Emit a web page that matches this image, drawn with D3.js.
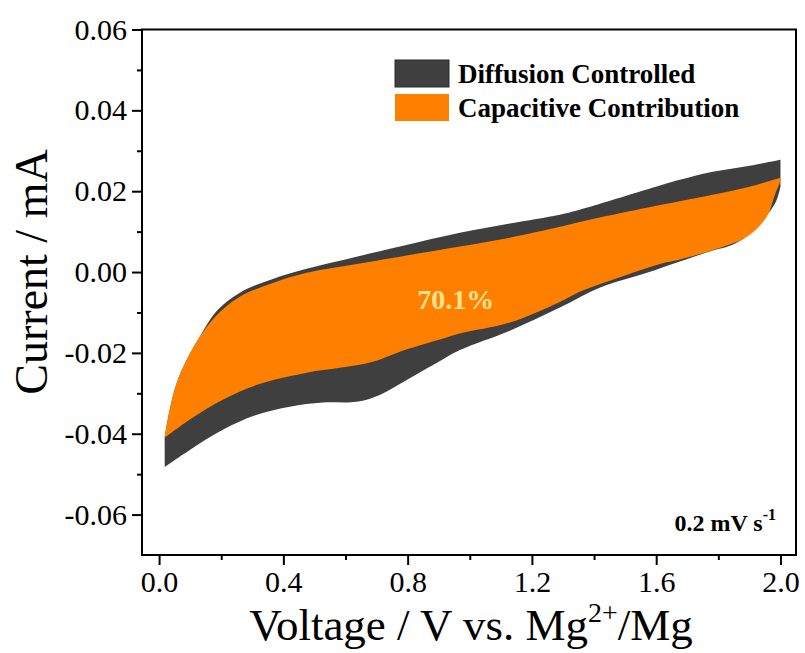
<!DOCTYPE html>
<html>
<head>
<meta charset="utf-8">
<script src="https://cdn.jsdelivr.net/npm/d3@7"></script>
<style>
  html, body { margin: 0; padding: 0; background: #fff; }
  svg { display: block; font-family: "Liberation Serif", "Times New Roman", serif; }
</style>
</head>
<body>
<svg id="chart" width="805" height="653"></svg>
<script>
// Voltage (V vs. Mg2+/Mg) and current (mA) pairs for the CV at 0.2 mV/s.
// Total measured current, anodic sweep (0 -> 2 V)
const totalForward = [
  [0.018, -0.0408], [0.034, -0.0341], [0.057, -0.0274], [0.089, -0.0217],
  [0.131, -0.0160], [0.186, -0.0096], [0.260, -0.0051], [0.366, -0.0017],
  [0.475, 0.0008], [0.582, 0.0028], [0.775, 0.0063], [0.968, 0.0097],
  [1.129, 0.0120], [1.290, 0.0142], [1.354, 0.0154], [1.570, 0.0204],
  [1.676, 0.0228], [1.782, 0.0248], [1.901, 0.0263], [2.000, 0.0278]
];
// Total measured current, cathodic sweep (2 -> 0 V)
const totalReverse = [
  [2.000, 0.0211], [1.988, 0.0179], [1.965, 0.0149], [1.933, 0.0122],
  [1.885, 0.0085], [1.837, 0.0065], [1.782, 0.0053], [1.676, 0.0026],
  [1.570, -0.0002], [1.418, -0.0039], [1.290, -0.0088], [1.129, -0.0145],
  [0.968, -0.0193], [0.904, -0.0220], [0.797, -0.0267],
  [0.710, -0.0304], [0.636, -0.0321], [0.527, -0.0323], [0.421, -0.0333],
  [0.315, -0.0353], [0.205, -0.0390], [0.099, -0.0440], [0.018, -0.0482]
];
// Capacitive current (k1·v), anodic sweep
const capForward = [
  [0.018, -0.0408], [0.034, -0.0341], [0.057, -0.0274], [0.089, -0.0217],
  [0.131, -0.0160], [0.186, -0.0106], [0.260, -0.0061], [0.366, -0.0027],
  [0.475, -0.0002], [0.582, 0.0013], [0.775, 0.0038], [0.968, 0.0063],
  [1.129, 0.0085], [1.290, 0.0112], [1.354, 0.0124], [1.570, 0.0159],
  [1.782, 0.0191], [1.901, 0.0211], [2.000, 0.0233]
];
// Capacitive current (k1·v), cathodic sweep
const capReverse = [
  [2.000, 0.0225], [1.982, 0.0191], [1.956, 0.0137], [1.892, 0.0087],
  [1.806, 0.0060], [1.676, 0.0031], [1.612, 0.0020], [1.460, -0.0019],
  [1.354, -0.0049], [1.290, -0.0074], [1.129, -0.0125], [0.968, -0.0152],
  [0.903, -0.0167], [0.775, -0.0197], [0.688, -0.0222], [0.582, -0.0237],
  [0.475, -0.0249], [0.315, -0.0279], [0.205, -0.0316], [0.099, -0.0365],
  [0.018, -0.0410]
];

const voltageTicks = [0.0, 0.4, 0.8, 1.2, 1.6, 2.0];
const voltageMinorTicks = [0.2, 0.6, 1.0, 1.4, 1.8];
const currentTicks = [-0.06, -0.04, -0.02, 0.00, 0.02, 0.04, 0.06];
const currentMinorTicks = [-0.05, -0.03, -0.01, 0.01, 0.03, 0.05];
const legendLabels = ["Diffusion Controlled", "Capacitive Contribution"];
const legendColors = ["#3f3f3f", "#ff8000"];
const capacitiveShare = "70.1%";
const scanRateText = "0.2 mV s";
const scanRateExp = "-1";

const W = 805, H = 653;
const margin = { top: 29.5, right: 9, bottom: 98, left: 142 };

const svg = d3.select("#chart");

const x = d3.scaleLinear().domain([-0.055, 2.05]).range([margin.left, W - margin.right]);
const y = d3.scaleLinear().domain([-0.07, 0.06]).range([H - margin.bottom, margin.top]);

const line = d3.line().x(d => x(d[0])).y(d => y(d[1])).curve(d3.curveCatmullRom.alpha(0.5));

// Closed loop: forward branch, then reverse branch joined with straight edges at the vertices
function loopPath(fwd, rev) {
  const a = line(fwd);
  const b = line(rev);
  return a + "L" + b.slice(1) + "Z";
}

const plot = svg.append("g");

// Total CV area (diffusion controlled part shows around the capacitive area)
plot.append("path")
  .attr("d", loopPath(totalForward, totalReverse))
  .attr("fill", legendColors[0]);

// Capacitive contribution area
plot.append("path")
  .attr("d", loopPath(capForward, capReverse))
  .attr("fill", legendColors[1]);

// Percentage label
svg.append("text")
  .attr("x", x(0.955))
  .attr("y", y(-0.0092))
  .attr("text-anchor", "middle")
  .attr("font-weight", "bold")
  .attr("font-size", 28)
  .attr("fill", "#ffe38f")
  .text(capacitiveShare);

// Axes
const fontTick = 30;
const xAxis = svg.append("g")
  .attr("transform", `translate(0,${H - margin.bottom})`)
  .call(d3.axisBottom(x).tickValues(voltageTicks).tickFormat(d3.format(".1f"))
    .tickSize(10).tickSizeOuter(0).tickPadding(6));
xAxis.select(".domain").remove();
xAxis.selectAll(".tick line").attr("stroke", "#000").attr("stroke-width", 2);
xAxis.selectAll(".tick text").attr("font-size", fontTick).attr("font-family", "Liberation Serif").attr("fill", "#000");

const xMinor = svg.append("g")
  .attr("transform", `translate(0,${H - margin.bottom})`)
  .call(d3.axisBottom(x).tickValues(voltageMinorTicks).tickFormat("").tickSize(5).tickSizeOuter(0));
xMinor.select(".domain").remove();
xMinor.selectAll(".tick line").attr("stroke", "#000").attr("stroke-width", 2);

const yAxis = svg.append("g")
  .attr("transform", `translate(${margin.left},0)`)
  .call(d3.axisLeft(y).tickValues(currentTicks).tickFormat(d3.format(".2f"))
    .tickSize(10).tickSizeOuter(0).tickPadding(5));
yAxis.select(".domain").remove();
yAxis.selectAll(".tick line").attr("stroke", "#000").attr("stroke-width", 2);
yAxis.selectAll(".tick text").attr("font-size", fontTick).attr("font-family", "Liberation Serif").attr("fill", "#000")
  .text(d => d3.format(".2f")(d).replace("−", "-"));

const yMinor = svg.append("g")
  .attr("transform", `translate(${margin.left},0)`)
  .call(d3.axisLeft(y).tickValues(currentMinorTicks).tickFormat("").tickSize(5).tickSizeOuter(0));
yMinor.select(".domain").remove();
yMinor.selectAll(".tick line").attr("stroke", "#000").attr("stroke-width", 2);

// Frame
svg.append("rect")
  .attr("x", margin.left)
  .attr("y", margin.top)
  .attr("width", W - margin.left - margin.right)
  .attr("height", H - margin.top - margin.bottom)
  .attr("fill", "none")
  .attr("stroke", "#000")
  .attr("stroke-width", 2);

// Axis titles
const xTitle = svg.append("text")
  .attr("x", (margin.left + W - margin.right) / 2 + 2)
  .attr("y", 640)
  .attr("text-anchor", "middle")
  .attr("font-size", 45)
  .attr("fill", "#000");
xTitle.append("tspan").text("Voltage / V vs. Mg");
xTitle.append("tspan").attr("font-size", 28).attr("dy", -18).text("2+");
xTitle.append("tspan").attr("dy", 18).text("/Mg");

svg.append("text")
  .attr("transform", "translate(47,272) rotate(-90)")
  .attr("text-anchor", "middle")
  .attr("font-size", 46)
  .attr("fill", "#000")
  .text("Current / mA");

// Legend
const legend = svg.append("g").attr("transform", "translate(395,60)");
legendLabels.forEach((label, i) => {
  const g = legend.append("g").attr("transform", `translate(0,${i * 34})`);
  g.append("rect")
    .attr("width", 54).attr("height", 27)
    .attr("fill", legendColors[i])
    .attr("stroke", i === 0 ? "#2a2a2a" : "none")
    .attr("stroke-width", 1);
  g.append("text")
    .attr("x", 63).attr("y", 23)
    .attr("font-size", 27).attr("font-weight", "bold")
    .attr("fill", "#000")
    .text(label);
});

// Scan rate annotation
const rate = svg.append("text")
  .attr("x", 776)
  .attr("y", 531)
  .attr("text-anchor", "end")
  .attr("font-size", 24)
  .attr("font-weight", "bold")
  .attr("fill", "#000");
rate.append("tspan").text(scanRateText);
rate.append("tspan").attr("font-size", 16).attr("dy", -11).text(scanRateExp);
</script>
</body>
</html>
